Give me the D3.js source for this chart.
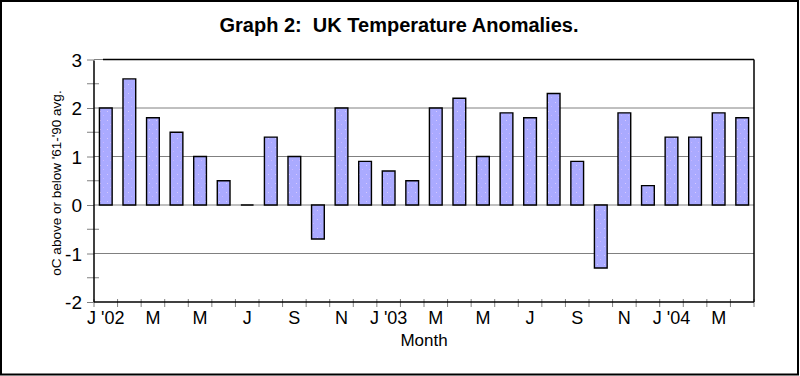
<!DOCTYPE html>
<html>
<head>
<meta charset="utf-8">
<script src="https://cdn.jsdelivr.net/npm/d3@7"></script>
<style>
  body { margin: 0; background: #fff; }
  svg { display: block; font-family: "Liberation Sans", Arial, sans-serif; }
</style>
</head>
<body>
<svg id="chart" width="800" height="376"></svg>
<script>
// months Jan 2002 .. Apr 2004
const months = ["Jan02","Feb02","Mar02","Apr02","May02","Jun02","Jul02","Aug02","Sep02","Oct02","Nov02","Dec02",
  "Jan03","Feb03","Mar03","Apr03","May03","Jun03","Jul03","Aug03","Sep03","Oct03","Nov03","Dec03",
  "Jan04","Feb04","Mar04","Apr04"];
const monthLabels = ["J '02","","M","","M","","J","","S","","N","",
  "J '03","","M","","M","","J","","S","","N","",
  "J '04","","M",""];
const anomalies = [2.0, 2.6, 1.8, 1.5, 1.0, 0.5, 0.0, 1.4, 1.0, -0.7, 2.0, 0.9,
  0.7, 0.5, 2.0, 2.2, 1.0, 1.9, 1.8, 2.3, 0.9, -1.3, 1.9, 0.4,
  1.4, 1.4, 1.9, 1.8];
const yTicks = [-2, -1, 0, 1, 2, 3];
const yMinorTicks = [-1.5, -0.5, 0.5, 1.5, 2.5];

const svg = d3.select("#chart");
const pLeft = 94, pRight = 754, pTop = 59.5, pBottom = 302;

// outer frame
svg.append("rect")
  .attr("x", 1).attr("y", 1).attr("width", 797).attr("height", 373.5)
  .attr("fill", "none").attr("stroke", "#000").attr("stroke-width", 2);

// speckled fill like the original
const defs = svg.append("defs");
const pat = defs.append("pattern")
  .attr("id", "speck").attr("patternUnits", "userSpaceOnUse")
  .attr("width", 7).attr("height", 9);
pat.append("rect").attr("width", 7).attr("height", 9).attr("fill", "#aaaaff");
pat.append("rect").attr("x", 2).attr("y", 3).attr("width", 1).attr("height", 1).attr("fill", "#d6c8ff");
pat.append("rect").attr("x", 5).attr("y", 7).attr("width", 1).attr("height", 1).attr("fill", "#c9b6ff");

const x = d3.scaleBand().domain(months).range([pLeft, pRight])
  .paddingInner(0.46).paddingOuter(0.23);
const y = d3.scaleLinear().domain([-2, 3]).range([pBottom, pTop]);

// gridlines
svg.append("g").selectAll("line")
  .data(yTicks.filter(d => d > -2))
  .join("line")
  .attr("x1", pLeft).attr("x2", pRight)
  .attr("y1", d => y(d)).attr("y2", d => y(d))
  .attr("stroke", "#808080").attr("stroke-width", 1);

// y axis ticks + labels (plain hyphen for negatives, as in the original)
const yAxis = svg.append("g")
  .attr("transform", `translate(${pLeft},0)`)
  .call(d3.axisLeft(y).tickValues(yTicks).tickSize(7).tickFormat(d => String(d)));
yAxis.select(".domain").remove();
yAxis.selectAll(".tick line").attr("stroke", "#808080");
yAxis.selectAll(".tick text")
  .attr("x", -12).attr("dy", "0.36em")
  .attr("font-size", 19).attr("font-family", "Liberation Sans, Arial, sans-serif")
  .attr("fill", "#000");
svg.append("g").selectAll("line")
  .data(yMinorTicks)
  .join("line")
  .attr("x1", pLeft - 7).attr("x2", pLeft + 5)
  .attr("y1", d => y(d)).attr("y2", d => y(d))
  .attr("stroke", "#808080");
// gray stub of the top line
svg.append("line")
  .attr("x1", pLeft).attr("x2", 103).attr("y1", y(3)).attr("y2", y(3))
  .attr("stroke", "#808080");

// bars (path so the zero bar still shows its outline)
svg.append("g").selectAll("path")
  .data(anomalies)
  .join("path")
  .attr("d", (d, i) => {
    const x0 = x(months[i]), w = x.bandwidth();
    const y0 = y(Math.max(0, d)), h = Math.abs(y(d) - y(0));
    return `M${x0},${y0}h${w}v${h}h${-w}Z`;
  })
  .attr("fill", "url(#speck)")
  .attr("stroke", "#000").attr("stroke-width", 1.4);

// x ticks at category boundaries
const step = x.step();
const xStart = x(months[0]) - x.paddingInner() * step / 2;
svg.append("g").selectAll("line")
  .data(d3.range(months.length + 1))
  .join("line")
  .attr("x1", i => xStart + i * step).attr("x2", i => xStart + i * step)
  .attr("y1", pBottom - 3).attr("y2", pBottom + 5)
  .attr("stroke", "#808080");

// x labels
svg.append("g").selectAll("text")
  .data(months)
  .join("text")
  .attr("x", d => x(d) + x.bandwidth() / 2)
  .attr("y", pBottom + 22)
  .attr("text-anchor", "middle")
  .attr("font-size", 18)
  .text((d, i) => monthLabels[i]);

// frame lines
svg.append("line").attr("x1", pLeft).attr("x2", pLeft).attr("y1", pTop + 1).attr("y2", pBottom)
  .attr("stroke", "#000").attr("stroke-width", 1.5);
svg.append("line").attr("x1", pLeft).attr("x2", pRight).attr("y1", pBottom).attr("y2", pBottom)
  .attr("stroke", "#000").attr("stroke-width", 1.5);
svg.append("line").attr("x1", 103).attr("x2", pRight).attr("y1", pTop).attr("y2", pTop)
  .attr("stroke", "#000").attr("stroke-width", 1.5);
svg.append("line").attr("x1", pRight).attr("x2", pRight).attr("y1", pTop).attr("y2", pBottom)
  .attr("stroke", "#000").attr("stroke-width", 1.5);

// titles
svg.append("text")
  .attr("x", 399).attr("y", 32)
  .attr("text-anchor", "middle")
  .attr("font-size", 20).attr("font-weight", "bold")
  .style("white-space", "pre")
  .text("Graph 2:  UK Temperature Anomalies.");

svg.append("text")
  .attr("x", (pLeft + pRight) / 2).attr("y", 346)
  .attr("text-anchor", "middle")
  .attr("font-size", 17)
  .text("Month");

svg.append("text")
  .attr("transform", `translate(61,183) rotate(-90)`)
  .attr("text-anchor", "middle")
  .attr("font-size", 13.5)
  .text("oC above or below '61-'90 avg.");
</script>
</body>
</html>
